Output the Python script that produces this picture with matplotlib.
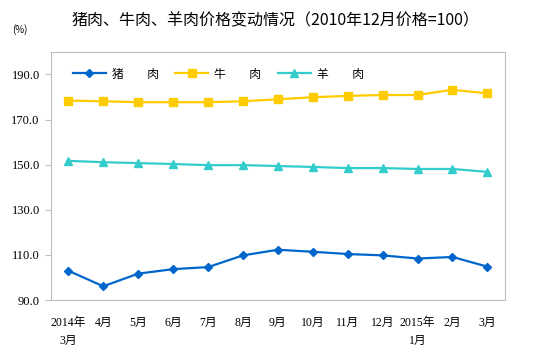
import matplotlib.pyplot as plt
import numpy as np

plt.rcParams['font.family'] = ['Liberation Serif', 'Noto Sans CJK SC']

months = ["2014年\n3月", "4月", "5月", "6月", "7月", "8月", "9月", "10月",
          "11月", "12月", "2015年\n1月", "2月", "3月"]
pork = [103.0, 96.1, 101.7, 103.7, 104.6, 109.8, 112.3, 111.4, 110.4, 109.8, 108.4, 109.1, 104.8]
beef = [178.4, 178.1, 177.7, 177.7, 177.7, 178.1, 179.0, 179.9, 180.5, 180.9, 180.9, 183.2, 181.6]
mutton = [151.7, 151.1, 150.7, 150.3, 149.8, 149.8, 149.4, 149.0, 148.5, 148.5, 148.1, 148.1, 146.8]
labels = ["猪\u3000\u3000肉", "牛\u3000\u3000肉", "羊\u3000\u3000肉"]

fig = plt.figure(figsize=(5.47, 3.53), dpi=100)
ax = fig.add_axes([0.093, 0.150, 0.830, 0.703])

x = np.arange(len(months))
ax.plot(x, pork, color="#0066CC", lw=1.6, marker="D", ms=4.5, label=labels[0])
ax.plot(x, beef, color="#FFCC00", lw=1.6, marker="s", ms=5.5, label=labels[1])
ax.plot(x, mutton, color="#33CCCC", lw=1.6, marker="^", ms=5.5, label=labels[2])

ax.set_xlim(-0.5, len(months) - 0.5)
ax.set_ylim(90, 200)
ax.set_yticks(np.arange(90, 191, 20))
ax.set_yticklabels([f"{v:.1f}" for v in np.arange(90, 191, 20)])
ax.set_xticks(x)
ax.set_xticklabels(months, linespacing=1.7)
ax.tick_params(axis="x", length=0, labelsize=8.5, pad=12)
ax.tick_params(axis="y", length=4, color="#BFBFBF", labelsize=9, pad=4)
for s in ax.spines.values():
    s.set_color("#BFBFBF")

cjk = ['Noto Sans CJK SC', 'DejaVu Sans']
leg = ax.legend(loc="upper left", bbox_to_anchor=(0.025, 0.98), ncol=3, frameon=False,
                prop={'family': cjk, 'size': 8.5}, handlelength=2.8, columnspacing=1.4,
                handletextpad=0.5)

fig.text(0.503, 0.94, "猪肉、牛肉、羊肉价格变动情况（2010年12月价格=100）",
         ha="center", va="center", fontsize=11.5, family=cjk, weight="medium")
fig.text(0.022, 0.915, "(%)", ha="left", va="center", fontsize=7, family=cjk)

fig.savefig("out.png", dpi=100)
